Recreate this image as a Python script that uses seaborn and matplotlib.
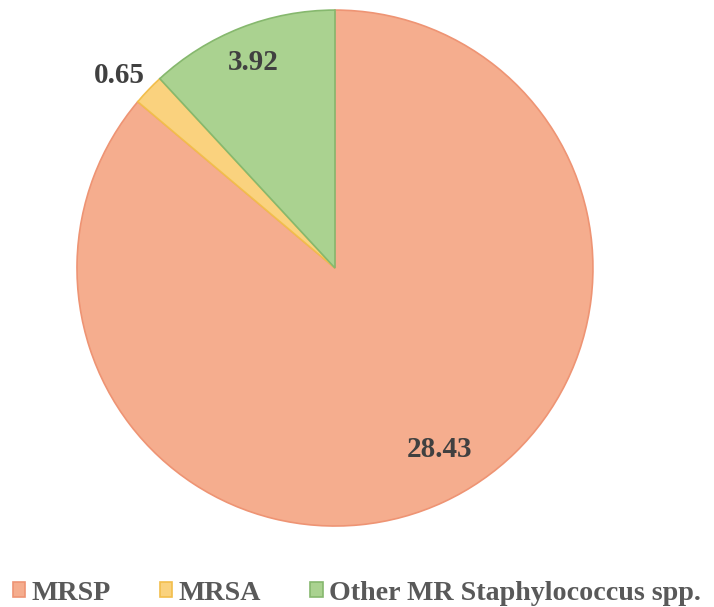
import matplotlib
matplotlib.use('Agg')
import seaborn as sns
from matplotlib import pyplot as plt

# values
labels = ['MRSP', 'MRSA', 'Other MR Staphylococcus spp.']
values = [28.43, 0.65, 3.92]
value_text = ['28.43', '0.65', '3.92']

face_colors = ['#F5AD8E', '#FAD27E', '#AAD290']
edge_colors = ['#EE9474', '#F2BE4C', '#86B86E']

sns.set_theme(style='white')
plt.rcParams['font.family'] = ['Liberation Serif', 'DejaVu Serif']

fig = plt.figure(figsize=(7.14, 6.07), dpi=100)
ax = fig.add_axes([0.1078, 0.1334, 0.7227, 0.850])

wedges, texts = ax.pie(values, colors=face_colors, startangle=90, counterclock=False,
                       labels=value_text, labeldistance=0.94,
                       wedgeprops=dict(linewidth=1.2),
                       textprops=dict(fontsize=21, fontweight='bold', color='#404040'))
for w, ec in zip(wedges, edge_colors):
    w.set_edgecolor(ec)

# move the value labels to where the original puts them (baseline anchored)
texts[0].set_position((0.407, -0.733))
texts[1].set_position((-0.837, 0.717))
texts[2].set_position((-0.318, 0.767))
for t in texts:
    t.set_ha('center')
    t.set_va('baseline')

ax.set_xlim(-1, 1)
ax.set_ylim(-1, 1)
ax.set_aspect('equal')

fig.legend(wedges, labels, loc='center left', bbox_to_anchor=(0.0, 0.023), ncol=3,
           frameon=False, handlelength=0.45, handleheight=0.45, handletextpad=0.22,
           columnspacing=1.75, borderaxespad=0, borderpad=0.45,
           prop=dict(size=20.2, weight='bold'), labelcolor='#595959')

fig.savefig('out.png', dpi=100)
